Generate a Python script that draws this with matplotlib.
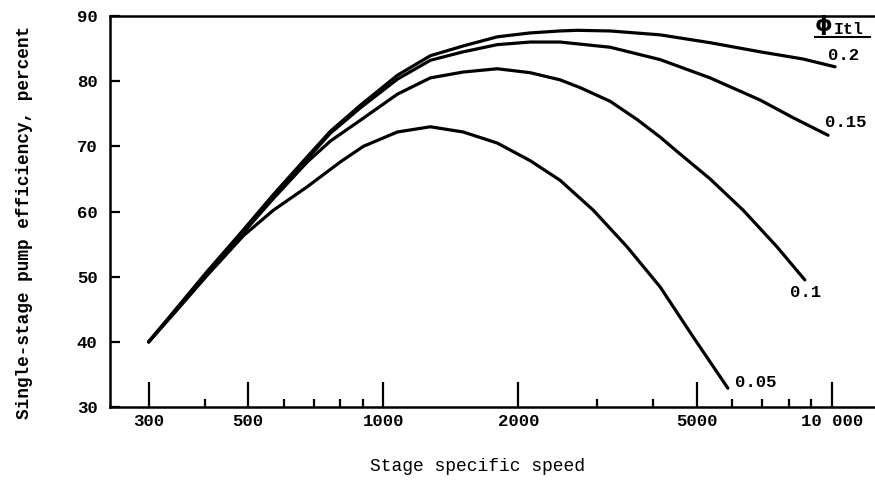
import matplotlib
matplotlib.use('Agg')
import matplotlib.pyplot as plt
from matplotlib.ticker import FixedLocator, NullFormatter

# curves: stage specific speed vs efficiency (percent)
speed_02 = [300, 340, 405, 481, 569, 677, 762, 889, 1075, 1273, 1507, 1795, 2125, 2477, 2704,
            3205, 4143, 5350, 6918, 8618, 10160]
eff_02 = [40.0, 44.5, 50.8, 56.7, 62.6, 68.4, 72.3, 76.3, 80.9, 83.9, 85.4, 86.8, 87.4, 87.7, 87.8,
          87.7, 87.1, 85.9, 84.5, 83.4, 82.2]

speed_015 = [300, 340, 405, 481, 569, 677, 762, 889, 1075, 1273, 1507, 1795, 2125, 2477, 3205,
             4143, 5350, 6918, 8186, 9800]
eff_015 = [40.0, 44.4, 50.6, 56.5, 62.3, 68.1, 72.0, 75.9, 80.3, 83.2, 84.5, 85.6, 86.0, 86.0, 85.2,
           83.3, 80.5, 77.1, 74.4, 71.7]

speed_01 = [300, 340, 405, 481, 569, 677, 762, 889, 1075, 1273, 1507, 1795, 2125, 2477, 2748,
            3205, 3681, 4143, 4518, 5350, 6340, 7537, 8700]
eff_01 = [40.0, 44.3, 50.4, 56.3, 62.0, 67.6, 70.8, 74.0, 78.0, 80.5, 81.4, 81.9, 81.3, 80.2, 79.0,
          76.9, 74.1, 71.4, 69.2, 65.0, 60.2, 54.6, 49.5]

speed_005 = [300, 340, 405, 488, 569, 677, 802, 903, 1075, 1273, 1507, 1795, 2125, 2477, 2938,
             3492, 4143, 4900, 5860]
eff_005 = [40.0, 44.2, 50.2, 56.3, 60.2, 63.8, 67.6, 70.0, 72.2, 73.0, 72.2, 70.5, 67.8, 64.8, 60.2,
           54.6, 48.4, 40.8, 32.9]

major_ticks = [300, 500, 1000, 2000, 5000, 10000]
major_labels = ['300', '500', '1000', '2000', '5000', '10 000']
minor_ticks = [400, 600, 700, 800, 900, 3000, 4000, 6000, 7000, 8000, 9000]
y_ticks = [30, 40, 50, 60, 70, 80, 90]

curve_labels = ['0.2', '0.15', '0.1', '0.05']
label_pos = [(9800, 84.0), (9640, 73.7), (8050, 47.5), (6085, 33.7)]

mono = 'Liberation Mono'

fig = plt.figure(figsize=(8.75, 4.84), dpi=100)
ax = fig.add_axes([0.1257, 0.159, 0.8743, 0.808])

for xs, ys in [(speed_02, eff_02), (speed_015, eff_015), (speed_01, eff_01), (speed_005, eff_005)]:
    ax.plot(xs, ys, color='black', lw=2.3, solid_capstyle='round', solid_joinstyle='round')

ax.set_xscale('log')
ax.set_xlim(246, 12470)
ax.set_ylim(30, 90)

ax.xaxis.set_major_locator(FixedLocator(major_ticks))
ax.set_xticklabels(major_labels)
ax.xaxis.set_minor_locator(FixedLocator(minor_ticks))
ax.xaxis.set_minor_formatter(NullFormatter())
ax.set_yticks(y_ticks)

ax.tick_params(axis='x', which='major', direction='in', length=18, width=1.6, pad=5)
ax.tick_params(axis='x', which='minor', direction='in', length=6, width=1.6)
ax.tick_params(axis='y', direction='in', length=7, width=1.6, pad=9)
for lab in ax.get_xticklabels() + ax.get_yticklabels():
    lab.set_fontfamily(mono)
    lab.set_fontweight('bold')
    lab.set_fontsize(12.5)

for side in ['left', 'top', 'bottom']:
    ax.spines[side].set_linewidth(1.8)
ax.spines['right'].set_visible(False)

ax.set_xlabel('Stage specific speed', fontfamily=mono, fontsize=13)
ax.xaxis.set_label_coords(0.48, -0.13)
ax.set_ylabel('Single-stage pump efficiency, percent', fontfamily=mono, fontsize=12.8,
              fontweight='bold')
ax.yaxis.set_label_coords(-0.100, 0.473)

for lab, (x, y) in zip(curve_labels, label_pos):
    ax.text(x, y, lab, fontfamily=mono, fontweight='bold', fontsize=12.5, ha='left', va='center')

# phi_Itl heading with underline
ax.text(0.933, 0.977, 'ϕ', transform=ax.transAxes, fontsize=16, fontweight='bold',
        ha='center', va='center')
ax.text(0.946, 0.965, 'Itl', transform=ax.transAxes, fontfamily=mono, fontsize=12,
        fontweight='bold', ha='left', va='center')
ax.plot([0.922, 0.993], [0.946, 0.946], transform=ax.transAxes, color='black', lw=1.5,
        clip_on=False)

fig.savefig('out.png', dpi=100)
